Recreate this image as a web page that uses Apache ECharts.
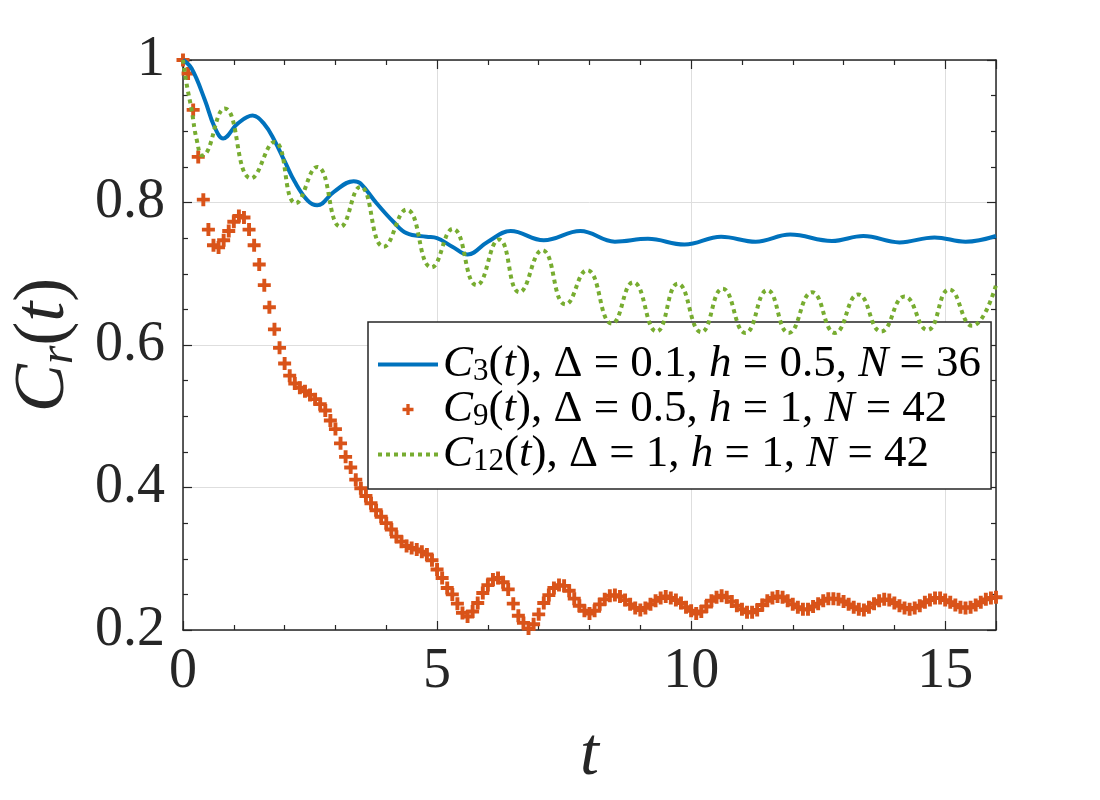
<!DOCTYPE html>
<html lang="en">
  <head>
    <meta charset="UTF-8" />
    <title>Cr(t)</title>
    <style>
      body {
        margin: 0;
        width: 1100px;
        height: 800px;
        background-color: #ffffff;
      }
      #chart {
        width: 1100px;
        height: 800px;
      }
    </style>
  </head>
  <body>
    <div id="chart"></div>
    <script src="https://cdn.jsdelivr.net/npm/echarts@6/dist/echarts.min.js"></script>
    <script>
      // C3(t), [t, value]
      const c3Points = [
        [0, 1.0], [0.17, 0.988], [0.43, 0.944], [0.62, 0.906], [0.79, 0.89],
        [1.08, 0.911], [1.37, 0.922], [1.6, 0.91], [1.8, 0.887], [2.0, 0.858],
        [2.2, 0.829], [2.45, 0.803], [2.64, 0.796], [2.97, 0.815], [3.36, 0.83],
        [3.49, 0.827], [3.81, 0.799], [4.14, 0.773], [4.4, 0.757], [4.79, 0.752],
        [5.0, 0.75], [5.3, 0.738], [5.6, 0.727], [6.0, 0.745], [6.45, 0.76],
        [7.1, 0.747], [7.82, 0.76], [8.5, 0.745], [9.15, 0.749], [9.87, 0.741],
        [10.59, 0.752], [11.27, 0.745], [11.95, 0.755], [12.77, 0.746], [13.39, 0.753],
        [14.1, 0.744], [14.79, 0.751], [15.4, 0.745], [16, 0.753]
      ];

      // C12(t): dotted green curve, [t, value] at its turning points
      const c12Points = [
        [0, 1.0], [0.07, 0.967], [0.17, 0.93], [0.27, 0.888], [0.38, 0.866],
        [0.82, 0.932], [1.34, 0.834], [1.8, 0.885], [2.22, 0.799], [2.64, 0.85],
        [3.1, 0.766], [3.49, 0.822], [3.95, 0.738], [4.4, 0.79], [4.89, 0.709],
        [5.31, 0.763], [5.78, 0.684], [6.22, 0.748], [6.62, 0.674], [7.07, 0.733],
        [7.53, 0.657], [7.95, 0.705], [8.44, 0.63], [8.86, 0.688], [9.32, 0.619],
        [9.74, 0.686], [10.2, 0.618], [10.62, 0.679], [11.07, 0.617], [11.5, 0.677],
        [11.92, 0.617], [12.38, 0.674], [12.83, 0.617], [13.29, 0.671], [13.74, 0.619],
        [14.2, 0.668], [14.65, 0.621], [15.08, 0.678], [15.53, 0.627], [16, 0.684]
      ];

      // C9(t): orange markers, one every 0.1 in t starting at t = 0
      const c9Step = 0.1;
      const c9Values = [
        1.0, 0.981, 0.93, 0.864, 0.804, 0.762, 0.74, 0.737, 0.747, 0.76,
        0.773, 0.781, 0.779, 0.762, 0.74, 0.713, 0.684, 0.653, 0.622, 0.596,
        0.574, 0.557, 0.546, 0.54, 0.535, 0.53, 0.524, 0.517, 0.508, 0.494,
        0.482, 0.462, 0.443, 0.428, 0.411, 0.399, 0.388, 0.378, 0.368, 0.359,
        0.35, 0.341, 0.331, 0.324, 0.318, 0.315, 0.313, 0.31, 0.306, 0.298,
        0.285, 0.273, 0.259, 0.25, 0.237, 0.224, 0.219, 0.226, 0.238, 0.252,
        0.263, 0.271, 0.273, 0.267, 0.257, 0.237, 0.22, 0.21, 0.202, 0.208,
        0.222, 0.238, 0.249, 0.259, 0.263, 0.262, 0.255, 0.244, 0.234, 0.227,
        0.223, 0.227, 0.236, 0.243, 0.248, 0.249, 0.247, 0.242, 0.236, 0.231,
        0.228, 0.231, 0.236, 0.241, 0.245, 0.247, 0.245, 0.242, 0.238, 0.232,
        0.227, 0.223, 0.226, 0.233, 0.241, 0.246, 0.248, 0.246, 0.24, 0.234,
        0.229, 0.225, 0.225, 0.228, 0.235, 0.241, 0.245, 0.247, 0.246, 0.241,
        0.236, 0.232, 0.229, 0.229, 0.233, 0.237, 0.241, 0.244, 0.244, 0.243,
        0.24, 0.236, 0.232, 0.229, 0.228, 0.232, 0.237, 0.241, 0.243, 0.242,
        0.238, 0.234, 0.231, 0.229, 0.231, 0.234, 0.239, 0.242, 0.245, 0.245,
        0.242, 0.239, 0.235, 0.232, 0.231, 0.232, 0.235, 0.239, 0.243, 0.245,
        0.246
      ];

      const xTicks = { min: 0, max: 16, interval: 5 };
      const yTicks = { min: 0.2, max: 1, interval: 0.2 };

      const legendNames = ["C3", "C9", "C12"];
      const legendTexts = {
        C3: "{i|C}{s|3}{n|(}{i|t}{n|), Δ = 0.1, }{i|h}{n| = 0.5, }{i|N}{n| = 36}",
        C9: "{i|C}{s|9}{n|(}{i|t}{n|), Δ = 0.5, }{i|h}{n| = 1, }{i|N}{n| = 42}",
        C12: "{i|C}{s|12}{n|(}{i|t}{n|), Δ = 1, }{i|h}{n| = 1, }{i|N}{n| = 42}"
      };

      const serif = "Liberation Serif";
      const ink = "#262626";
      const plus = "path://M3.5,0h3v3.5h3.5v3h-3.5v3.5h-3v-3.5h-3.5v-3h3.5z";

      const c9Data = c9Values.map((v, i) => [+(i * c9Step).toFixed(1), v]);

      const axisCommon = {
        type: "value",
        axisLine: { show: true, onZero: false, lineStyle: { color: ink, width: 1.5 } },
        axisTick: { show: true, inside: true, length: 9, lineStyle: { color: ink, width: 1.2 } },
        minorTick: { show: true, length: 5, lineStyle: { color: ink, width: 1.2 } },
        axisLabel: { show: false },
        splitLine: { show: false }
      };

      const chart = echarts.init(document.getElementById("chart"));
      chart.setOption({
        animation: false,
        backgroundColor: "#ffffff",
        textStyle: { fontFamily: serif },
        grid: { left: 178, right: 104, top: 60, bottom: 170 },
        xAxis: [
          {
            ...axisCommon,
            ...xTicks,
            position: "bottom",
            minorTick: { ...axisCommon.minorTick, splitNumber: 5 },
            splitLine: { show: true, lineStyle: { color: "#dedede", width: 1 } },
            axisLabel: {
              show: true,
              color: ink,
              fontFamily: serif,
              fontSize: 56,
              margin: 14
            },
            name: "t",
            nameLocation: "middle",
            nameGap: 92,
            nameTextStyle: { color: ink, fontFamily: serif, fontSize: 68, fontStyle: "italic" }
          },
          {
            ...axisCommon,
            ...xTicks,
            position: "top",
            minorTick: { ...axisCommon.minorTick, splitNumber: 5 }
          }
        ],
        yAxis: [
          {
            ...axisCommon,
            ...yTicks,
            position: "left",
            minorTick: { ...axisCommon.minorTick, splitNumber: 4 },
            splitLine: { show: true, lineStyle: { color: "#dedede", width: 1 } },
            axisLabel: {
              show: true,
              color: ink,
              fontFamily: serif,
              fontSize: 56,
              margin: 18,
              formatter: (v) => String(+v.toFixed(1))
            },
            name: "{i|C}{s|r}{n|(}{i|t}{n|)}",
            nameLocation: "middle",
            nameRotate: 90,
            nameGap: 100,
            nameTextStyle: {
              color: ink,
              fontFamily: serif,
              rich: {
                i: { fontFamily: serif, fontSize: 72, fontStyle: "italic", color: ink, lineHeight: 78 },
                n: { fontFamily: serif, fontSize: 72, color: ink, lineHeight: 78 },
                s: { fontFamily: serif, fontSize: 48, fontStyle: "italic", color: ink, lineHeight: 78, verticalAlign: "bottom" }
              }
            }
          },
          {
            ...axisCommon,
            ...yTicks,
            position: "right",
            minorTick: { ...axisCommon.minorTick, splitNumber: 4 }
          }
        ],
        legend: {
          orient: "vertical",
          left: 368,
          top: 322,
          padding: [20, 10, 12, 8],
          itemGap: 0,
          itemWidth: 60,
          itemHeight: 11,
          borderColor: ink,
          borderWidth: 1.5,
          backgroundColor: "#ffffff",
          data: [
            { name: "C3", itemStyle: { opacity: 0 }, lineStyle: { width: 4 } },
            { name: "C9" },
            { name: "C12", itemStyle: { opacity: 0 }, lineStyle: { width: 4 } }
          ].filter((d) => legendNames.includes(d.name)),
          formatter: (name) => legendTexts[name],
          textStyle: {
            color: "#000000",
            fontFamily: serif,
            rich: {
              i: { fontFamily: serif, fontSize: 45, fontStyle: "italic", color: "#000", lineHeight: 45 },
              n: { fontFamily: serif, fontSize: 45, color: "#000", lineHeight: 45 },
              s: { fontFamily: serif, fontSize: 31, color: "#000", lineHeight: 45, verticalAlign: "bottom" }
            }
          }
        },
        series: [
          {
            name: "C3",
            type: "line",
            data: c3Points,
            smooth: 0.4,
            symbol: "none",
            lineStyle: { color: "#0072BD", width: 4 },
            itemStyle: { color: "#0072BD" },
            z: 3
          },
          {
            name: "C9",
            type: "scatter",
            data: c9Data,
            symbol: plus,
            symbolSize: 13,
            itemStyle: { color: "#D95319", opacity: 1 },
            z: 2
          },
          {
            name: "C12",
            type: "line",
            data: c12Points,
            smooth: 0.5,
            symbol: "none",
            lineStyle: { color: "#77AC30", width: 4, type: [4, 4] },
            itemStyle: { color: "#77AC30" },
            z: 4
          }
        ]
      });
    </script>
  </body>
</html>
